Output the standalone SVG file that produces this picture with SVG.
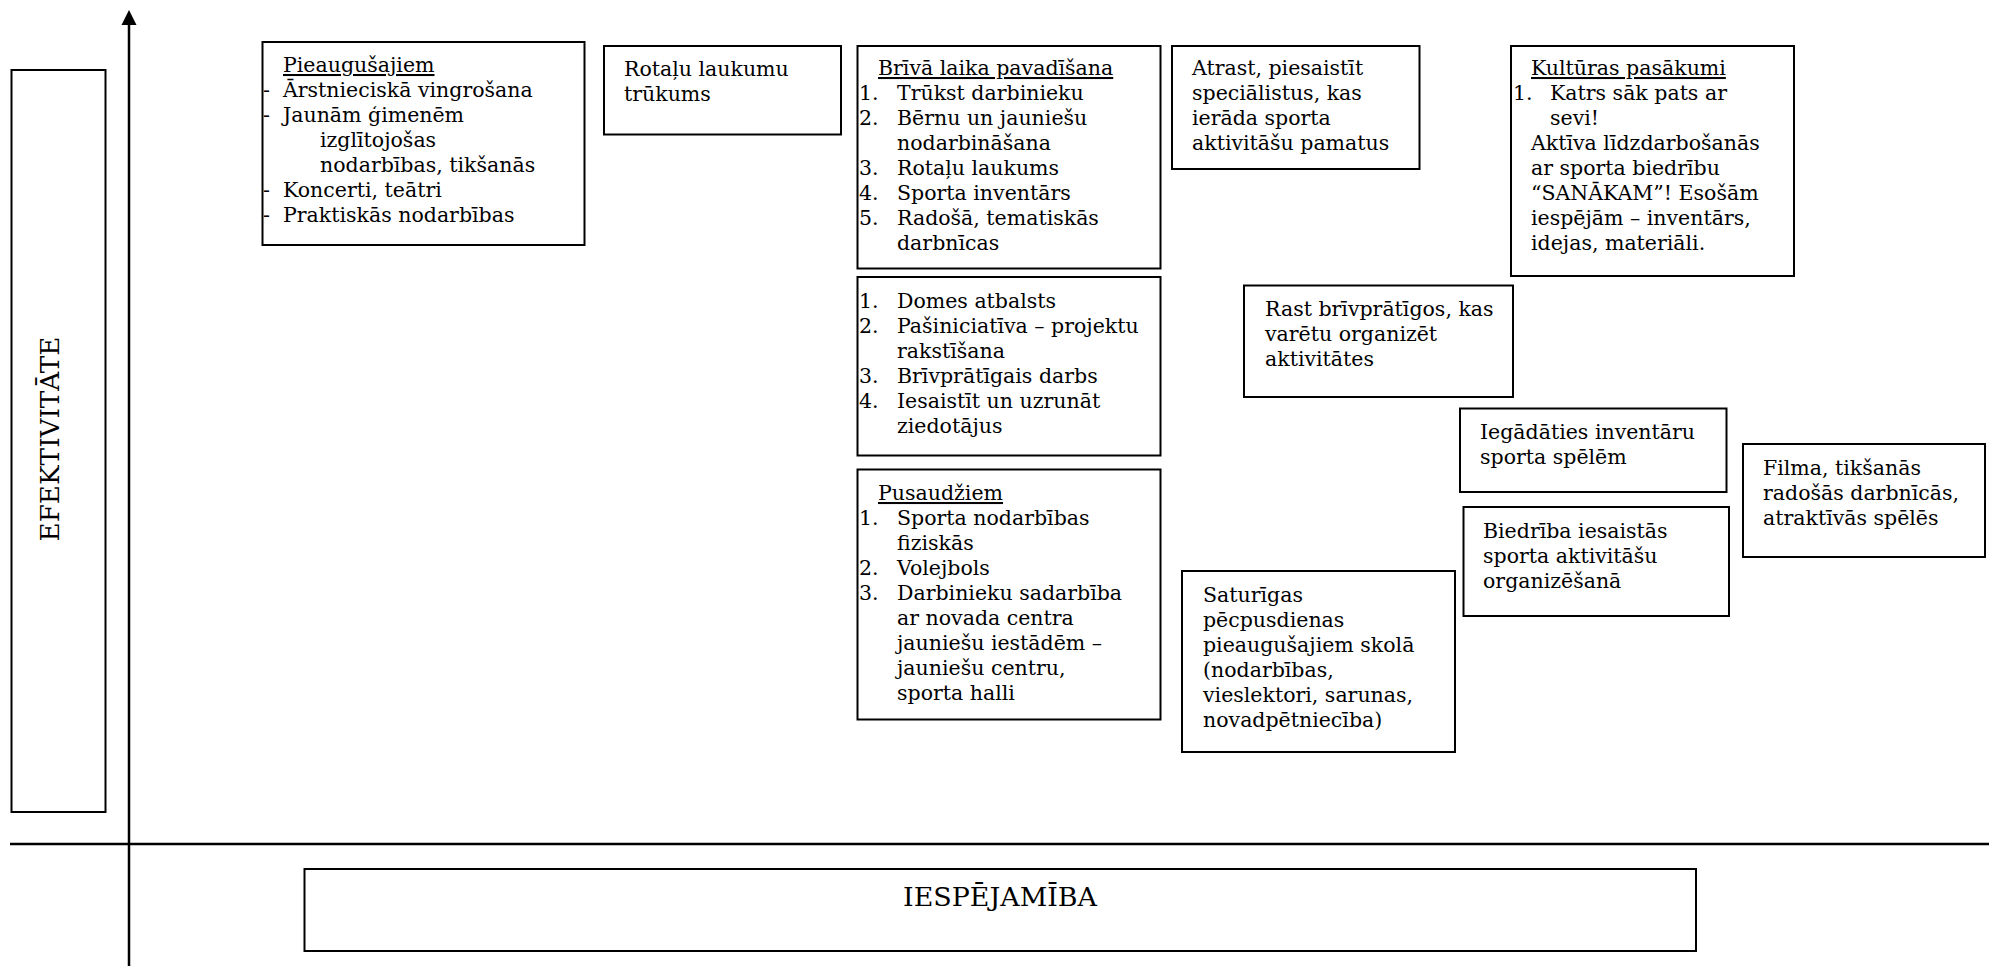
<svg xmlns="http://www.w3.org/2000/svg" width="1989" height="966" viewBox="0 0 1989 966">
<defs>
<style>
.box{fill:#fff;stroke:#000;stroke-width:2}
.t{font-family:"DejaVu Serif","Liberation Serif",serif;font-size:20.5px;fill:#000}
.u{text-decoration:underline}
.lbl{font-family:"DejaVu Serif","Liberation Serif",serif;font-size:26px;fill:#000}
.ax{stroke:#000;stroke-width:2.5;fill:none}
</style>
<marker id="arr" markerWidth="16" markerHeight="16" refX="8" refY="15" orient="0" markerUnits="userSpaceOnUse" viewBox="0 0 16 16">
<path d="M0.5,15 L8,0 L15.5,15 Z" fill="#000"/>
</marker>
</defs>
<rect width="1989" height="966" fill="#fff"/>

<g id="connectors">
<line class="ax" x1="129" y1="966" x2="129" y2="25" marker-end="url(#arr)"/>
<line class="ax" x1="10" y1="844" x2="1989" y2="844"/>
</g>

<g id="efektivitate">
<rect class="box" x="11.5" y="70" width="94" height="742"/>
<text class="lbl" transform="translate(58.5,439) rotate(-90)" text-anchor="middle" textLength="205" lengthAdjust="spacingAndGlyphs">EFEKTIVITĀTE</text>
</g>

<g id="iespejamiba">
<rect class="box" x="304.5" y="869" width="1391.5" height="82"/>
<text class="lbl" x="1000" y="906" text-anchor="middle" textLength="194" lengthAdjust="spacingAndGlyphs">IESPĒJAMĪBA</text>
</g>

<g id="pieaugusajiem">
<rect class="box" x="262.5" y="42" width="322" height="203"/>
<text class="t u" x="283" y="72">Pieaugušajiem</text>
<text class="t" x="263" y="97">-</text><text class="t" x="283" y="97">Ārstnieciskā vingrošana</text>
<text class="t" x="263" y="122">-</text><text class="t" x="283" y="122">Jaunām ģimenēm</text>
<text class="t" x="320" y="147">izglītojošas</text>
<text class="t" x="320" y="172">nodarbības, tikšanās</text>
<text class="t" x="263" y="197">-</text><text class="t" x="283" y="197">Koncerti, teātri</text>
<text class="t" x="263" y="222">-</text><text class="t" x="283" y="222">Praktiskās nodarbības</text>
</g>

<g id="rotalu">
<rect class="box" x="604" y="46" width="237" height="88.5"/>
<text class="t" x="624" y="76">Rotaļu laukumu</text>
<text class="t" x="624" y="101">trūkums</text>
</g>

<g id="briva-laika">
<rect class="box" x="857.5" y="46" width="303" height="222.5"/>
<text class="t u" x="878" y="75">Brīvā laika pavadīšana</text>
<text class="t" x="859" y="100">1.</text><text class="t" x="897" y="100">Trūkst darbinieku</text>
<text class="t" x="859" y="125">2.</text><text class="t" x="897" y="125">Bērnu un jauniešu</text>
<text class="t" x="897" y="150">nodarbināšana</text>
<text class="t" x="859" y="175">3.</text><text class="t" x="897" y="175">Rotaļu laukums</text>
<text class="t" x="859" y="200">4.</text><text class="t" x="897" y="200">Sporta inventārs</text>
<text class="t" x="859" y="225">5.</text><text class="t" x="897" y="225">Radošā, tematiskās</text>
<text class="t" x="897" y="250">darbnīcas</text>
</g>

<g id="domes">
<rect class="box" x="857.5" y="277" width="303" height="178.5"/>
<text class="t" x="859" y="308">1.</text><text class="t" x="897" y="308">Domes atbalsts</text>
<text class="t" x="859" y="333">2.</text><text class="t" x="897" y="333">Pašiniciatīva – projektu</text>
<text class="t" x="897" y="358">rakstīšana</text>
<text class="t" x="859" y="383">3.</text><text class="t" x="897" y="383">Brīvprātīgais darbs</text>
<text class="t" x="859" y="408">4.</text><text class="t" x="897" y="408">Iesaistīt un uzrunāt</text>
<text class="t" x="897" y="433">ziedotājus</text>
</g>

<g id="pusaudziem">
<rect class="box" x="857.5" y="469.5" width="303" height="250"/>
<text class="t u" x="878" y="500">Pusaudžiem</text>
<text class="t" x="859" y="525">1.</text><text class="t" x="897" y="525">Sporta nodarbības</text>
<text class="t" x="897" y="550">fiziskās</text>
<text class="t" x="859" y="575">2.</text><text class="t" x="897" y="575">Volejbols</text>
<text class="t" x="859" y="600">3.</text><text class="t" x="897" y="600">Darbinieku sadarbība</text>
<text class="t" x="897" y="625">ar novada centra</text>
<text class="t" x="897" y="650">jauniešu iestādēm –</text>
<text class="t" x="897" y="675">jauniešu centru,</text>
<text class="t" x="897" y="700">sporta halli</text>
</g>

<g id="atrast">
<rect class="box" x="1172" y="46" width="247.5" height="123"/>
<text class="t" x="1192" y="75">Atrast, piesaistīt</text>
<text class="t" x="1192" y="100">speciālistus, kas</text>
<text class="t" x="1192" y="125">ierāda sporta</text>
<text class="t" x="1192" y="150">aktivitāšu pamatus</text>
</g>

<g id="kulturas">
<rect class="box" x="1511" y="46" width="283" height="230"/>
<text class="t u" x="1531" y="75">Kultūras pasākumi</text>
<text class="t" x="1513" y="100">1.</text><text class="t" x="1550" y="100">Katrs sāk pats ar</text>
<text class="t" x="1550" y="125">sevi!</text>
<text class="t" x="1531" y="150">Aktīva līdzdarbošanās</text>
<text class="t" x="1531" y="175">ar sporta biedrību</text>
<text class="t" x="1531" y="200">“SANĀKAM”! Esošām</text>
<text class="t" x="1531" y="225">iespējām – inventārs,</text>
<text class="t" x="1531" y="250">idejas, materiāli.</text>
</g>

<g id="rast">
<rect class="box" x="1244" y="285.5" width="269" height="111.5"/>
<text class="t" x="1265" y="316">Rast brīvprātīgos, kas</text>
<text class="t" x="1265" y="341">varētu organizēt</text>
<text class="t" x="1265" y="366">aktivitātes</text>
</g>

<g id="iegadaties">
<rect class="box" x="1460" y="408.5" width="266.5" height="83.5"/>
<text class="t" x="1480" y="439">Iegādāties inventāru</text>
<text class="t" x="1480" y="464">sporta spēlēm</text>
</g>

<g id="biedriba">
<rect class="box" x="1463.5" y="507" width="265.5" height="109"/>
<text class="t" x="1483" y="538">Biedrība iesaistās</text>
<text class="t" x="1483" y="563">sporta aktivitāšu</text>
<text class="t" x="1483" y="588">organizēšanā</text>
</g>

<g id="filma">
<rect class="box" x="1743" y="444" width="242" height="113"/>
<text class="t" x="1763" y="475">Filma, tikšanās</text>
<text class="t" x="1763" y="500">radošās darbnīcās,</text>
<text class="t" x="1763" y="525">atraktīvās spēlēs</text>
</g>

<g id="saturigas">
<rect class="box" x="1182" y="571" width="273" height="181"/>
<text class="t" x="1203" y="602">Saturīgas</text>
<text class="t" x="1203" y="627">pēcpusdienas</text>
<text class="t" x="1203" y="652">pieaugušajiem skolā</text>
<text class="t" x="1203" y="677">(nodarbības,</text>
<text class="t" x="1203" y="702">vieslektori, sarunas,</text>
<text class="t" x="1203" y="727">novadpētniecība)</text>
</g>
</svg>
